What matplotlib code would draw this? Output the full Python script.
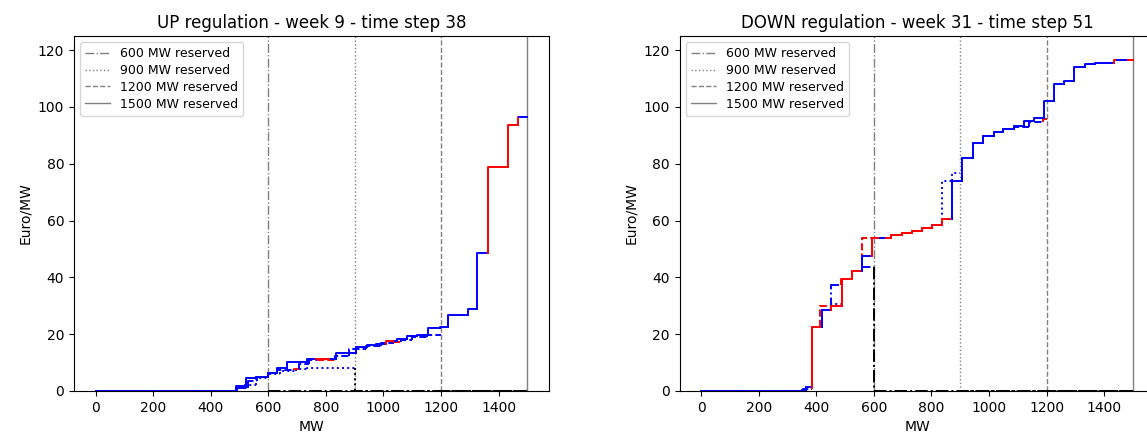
import matplotlib
matplotlib.use('Agg')
import matplotlib.pyplot as plt

# ---------------- data ----------------
reserved = [600, 900, 1200, 1500]
res_styles = ['-.', ':', '--', '-']
res_labels = ['600 MW reserved', '900 MW reserved', '1200 MW reserved', '1500 MW reserved']

titles = ['UP regulation - week 9 - time step 38', 'DOWN regulation - week 31 - time step 51']
x_ticks = [0, 200, 400, 600, 800, 1000, 1200, 1400]
y_ticks = [0, 20, 40, 60, 80, 100, 120]

# UP regulation: step start (MW), price (Euro/MW), colour per step
up_600_x = [0, 490, 530, 560]
up_600_p = [0, 1.0, 3.5, 4.8]
up_600_c = ['b', 'b', 'b', 'b']

up_900_x = [0, 488, 510, 557, 600, 640, 697, 734]
up_900_p = [0, 1.0, 2.0, 4.6, 6.0, 7.2, 7.8, 8.2]
up_900_c = ['b', 'b', 'b', 'b', 'b', 'b', 'b', 'b']

up_1200_x = [0, 488, 522, 557, 598, 630, 690, 705, 740, 770, 830, 880, 940, 990, 1035, 1060, 1100, 1150]
up_1200_p = [0, 1.0, 4.5, 5.0, 6.3, 7.5, 7.9, 9.5, 10.8, 11.0, 12.5, 14.8, 15.8, 16.8, 17.3, 18.0, 19.0, 19.6]
up_1200_c = ['b', 'b', 'b', 'b', 'b', 'b', 'r', 'b', 'b', 'r', 'b', 'b', 'b', 'b', 'r', 'b', 'b', 'b']

up_1500_x = [0, 488, 522, 557, 598, 630, 665, 735, 766, 818, 836, 906, 944, 975, 1010, 1040, 1048,
             1082, 1118, 1155, 1197, 1225, 1292, 1326, 1362, 1432, 1466, 1471]
up_1500_p = [0, 1.9, 4.7, 5.0, 6.5, 8.0, 10.1, 11.3, 11.3, 11.3, 13.3, 15.5, 16.2, 16.7, 17.7, 17.7, 18.3,
             19.2, 19.6, 22.1, 22.6, 26.8, 29.0, 48.7, 78.9, 93.5, 96.4, 96.4]
up_1500_c = ['b', 'b', 'b', 'b', 'b', 'b', 'b', 'b', 'r', 'b', 'b', 'b', 'b', 'b', 'r', 'b', 'b',
             'b', 'b', 'b', 'b', 'b', 'b', 'b', 'r', 'r', 'r', 'b']

# DOWN regulation
down_600_x = [0, 350, 365, 384, 419, 451, 486, 524, 559]
down_600_p = [0, 0.5, 1.3, 22.6, 28.5, 37.3, 39.4, 42.1, 43.5]
down_600_c = ['b', 'b', 'b', 'r', 'b', 'b', 'r', 'r', 'b']

down_900_x = [0, 355, 384, 419, 452, 489, 524, 559, 594, 661, 697, 732, 767, 802, 837, 872]
down_900_p = [0, 0.8, 22.6, 28.5, 30.5, 39.4, 42.1, 47.6, 53.7, 55.0, 55.7, 56.5, 57.4, 58.6, 74.0, 76.7]
down_900_c = ['b', 'b', 'r', 'b', 'b', 'r', 'r', 'b', 'r', 'r', 'r', 'r', 'r', 'r', 'b', 'b']

down_1200_x = [0, 355, 384, 413, 489, 524, 559, 661, 697, 732, 767, 802, 837, 872, 907, 944, 980,
               1016, 1050, 1086, 1140, 1187]
down_1200_p = [0, 0.8, 22.6, 29.9, 39.4, 42.1, 53.7, 55.0, 55.7, 56.5, 57.4, 58.6, 60.4, 74.0, 81.9, 87.2, 89.8,
               91.2, 92.2, 93.0, 94.8, 95.6]
down_1200_c = ['b', 'b', 'r', 'r', 'r', 'r', 'r', 'r', 'r', 'r', 'r', 'r', 'r', 'b', 'b', 'b', 'b',
               'b', 'b', 'b', 'b', 'r']

down_1500_x = [0, 350, 365, 384, 419, 452, 489, 524, 559, 594, 620, 644, 661, 697, 732, 767, 802, 837, 872,
               907, 944, 980, 1016, 1050, 1086, 1121, 1157, 1192, 1226, 1262, 1297, 1332, 1368, 1436,
               1445, 1483]
down_1500_p = [0, 0.5, 1.3, 22.6, 28.5, 29.8, 39.4, 42.1, 47.6, 53.7, 53.7, 53.7, 55.0, 55.7, 56.5, 57.4, 58.6,
               60.4, 74.0, 81.9, 87.2, 89.8, 91.2, 92.2, 93.3, 95.1, 96.3, 102.2, 108.0, 109.0, 114.2,
               115.1, 115.5, 116.7, 116.7, 116.7]
down_1500_c = ['b', 'b', 'b', 'r', 'b', 'r', 'r', 'r', 'b', 'r', 'b', 'r', 'r', 'r', 'r', 'r', 'r', 'r', 'b',
               'b', 'b', 'b', 'b', 'b', 'b', 'b', 'b', 'b', 'b', 'b', 'b', 'b', 'b', 'r', 'b', 'r']

# whether the black drop to zero at the reservation point is visible
up_drops = [False, True, False, False]
down_drops = [True, False, False, False]

panels = [
    [(up_600_x, up_600_p, up_600_c), (up_900_x, up_900_p, up_900_c),
     (up_1200_x, up_1200_p, up_1200_c), (up_1500_x, up_1500_p, up_1500_c)],
    [(down_600_x, down_600_p, down_600_c), (down_900_x, down_900_p, down_900_c),
     (down_1200_x, down_1200_p, down_1200_c), (down_1500_x, down_1500_p, down_1500_c)],
]
drops = [up_drops, down_drops]

COL = {'r': '#ff0000', 'b': '#0000ff'}
LW = 1.4


def draw_curve(ax, xs, ps, cs, end, ls, drop):
    prev = 0.0
    for i in range(len(xs)):
        x0 = xs[i]
        x1 = xs[i + 1] if i + 1 < len(xs) else end
        ax.plot([x0, x0, x1], [prev, ps[i], ps[i]], color=COL[cs[i]], ls=ls, lw=LW, zorder=3)
        prev = ps[i]
    if end < 1500:
        if drop:
            ax.plot([end, end], [prev, 0], color='k', ls=ls, lw=LW, zorder=3)
        ax.plot([end, 1500], [0, 0], color='k', ls=ls, lw=LW, zorder=3)


fig = plt.figure(figsize=(11.47, 4.37), dpi=100)
positions = [[74 / 1147, 46 / 437, 475 / 1147, 355 / 437],
             [679.5 / 1147, 46 / 437, 475 / 1147, 355 / 437]]

for k in range(2):
    ax = fig.add_axes(positions[k])
    for r, ls, lab in zip(reserved, res_styles, res_labels):
        ax.axvline(r, color='gray', ls=ls, lw=1.0, label=lab, zorder=2)
    for (xs, ps, cs), r, ls, d in zip(panels[k], reserved, res_styles, drops[k]):
        draw_curve(ax, xs, ps, cs, r, ls, d)
    ax.set_xlim(-75, 1575)
    ax.set_ylim(0, 125)
    ax.set_xticks(x_ticks)
    ax.set_yticks(y_ticks)
    ax.tick_params(labelsize=10)
    ax.set_xlabel('MW', fontsize=10)
    ax.set_ylabel('Euro/MW', fontsize=10)
    ax.set_title(titles[k], fontsize=12)
    ax.legend(loc='upper left', fontsize=9, labelspacing=0.3)

fig.savefig('out.png', dpi=100)
